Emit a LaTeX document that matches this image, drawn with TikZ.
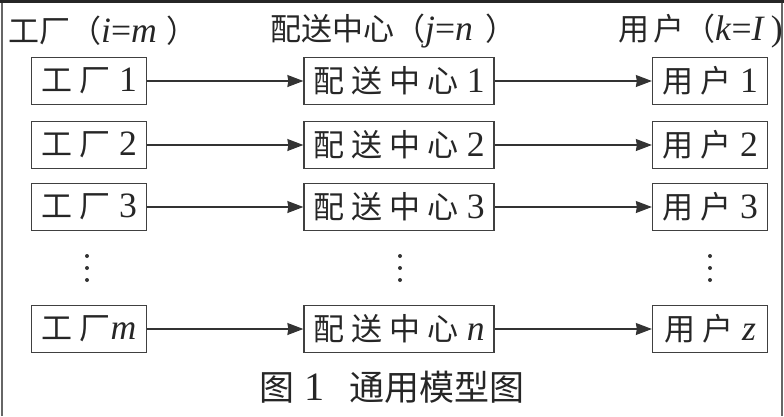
\documentclass[tikz,border=0pt]{standalone}
\usepackage{fontspec}
\setmainfont{Liberation Serif}[Scale=1.15]
\newfontfamily\cjk{Noto Sans CJK SC}
\usetikzlibrary{arrows.meta}

\tikzset{
  box/.style={draw=black!75, line width=1.3pt, minimum height=47pt, inner sep=0pt,
    text=black!85, font=\fontsize{31}{33}\selectfont},
  head/.style={anchor=west, inner sep=0pt, text=black!85, font=\fontsize{31}{33}\selectfont},
  link/.style={draw=black!80, line width=1.2pt, -{Stealth[length=16pt,width=12pt,inset=1pt]}},
}

\begin{document}
\begin{tikzpicture}[x=1pt,y=-1pt]
\useasboundingbox (0,0) rectangle (784,416);
% frame
\draw[black!60, line width=2pt] (2,416) -- (2,1) -- (782,1) -- (782,416);
\draw[black!85, line width=3pt] (0,1.5) -- (784,1.5);

% column heads
\node[head] (hf) at (8,31) {{\cjk 工厂（}\textit{i}=\textit{m}\hspace{10pt}{\cjk ）}};
\node[head] (hd) at (270,31) {{\cjk 配送中心（}\textit{j}=\textit{n}\hspace{12pt}{\cjk ）}};
\node[head] (hu) at (618,31) {{\cjk 用}\hspace{4pt}{\cjk 户（}\textit{k}=\textit{I}\hspace{6pt})};

% rows
\foreach \r/\y in {1/81, 2/145, 3/207} {
  \node[box, minimum width=115pt] (f\r) at (89,\y) {{\cjk 工 厂} \r};
  \node[box, minimum width=190pt] (d\r) at (399,\y) {{\cjk 配 送 中 心} \r};
  \node[box, minimum width=115pt] (u\r) at (710,\y) {{\cjk 用 户} \r};
  \draw[link] (f\r) -- (d\r);
  \draw[link] (d\r) -- (u\r);
}
\node[box, minimum width=115pt] (fm) at (89,329) {{\cjk 工 厂}\textit{m}};
\node[box, minimum width=190pt] (dn) at (399,329) {{\cjk 配 送 中 心} \textit{n}};
\node[box, minimum width=115pt] (uz) at (710,329) {{\cjk 用 户} \textit{z}};
\draw[link] (fm) -- (dn);
\draw[link] (dn) -- (uz);

% dots
\foreach \x in {87,400,710}
  \foreach \y in {256,268,280}
    \fill[black!80] (\x,\y) circle (2pt);

% caption
\node[text=black!85, font=\fontsize{35}{38}\selectfont] (cap) at (392,387)
  {{\cjk 图} 1\hspace{24pt}{\cjk 通用模型图}};
\end{tikzpicture}
\end{document}
